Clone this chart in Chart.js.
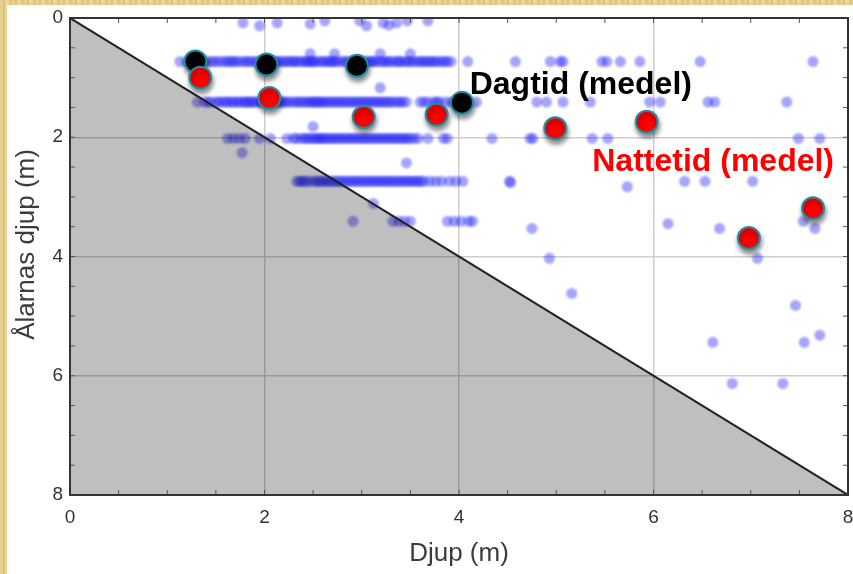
<!DOCTYPE html>
<html>
<head>
<meta charset="utf-8">
<script src="https://cdn.jsdelivr.net/npm/chart.js@4.4.1/dist/chart.umd.min.js"></script>
<style>
html, body { margin:0; padding:0; width:853px; height:574px; overflow:hidden;
  background: repeating-linear-gradient(90deg, #e7cf8f 0 3px, #dcc07b 3px 5px, #ecd698 5px 9px, #e0c583 9px 12px); }
#kort { position:absolute; left:7px; top:5px; width:854px; height:569px; background:#fff; }
</style>
</head>
<body>
<div id="kort"><canvas id="canva1"></canvas></div>
<script>
// djup (m) for the horizontal rows of individual eels
const radDjup = [0.73, 1.41, 2.02, 2.74, 3.41];
const rad1 = [1.13, 1.2, 1.24, 1.28, 1.32, 1.36, 1.4, 1.45, 1.48, 1.52, 1.56, 1.6, 1.63, 1.66, 1.69, 1.72, 1.76,
  1.8, 1.83, 1.86, 1.9, 1.93, 1.97, 2.0, 2.03, 2.05, 2.08, 2.1, 2.13, 2.16, 2.19, 2.22, 2.25, 2.28, 2.31,
  2.33, 2.37, 2.4, 2.43, 2.45, 2.48, 2.5, 2.52, 2.56, 2.59, 2.62, 2.65, 2.68, 2.7, 2.73, 2.76, 2.8, 2.83,
  2.86, 2.9, 2.92, 2.95, 2.98, 3.01, 3.04, 3.07, 3.1, 3.12, 3.15, 3.19, 3.22, 3.25, 3.28, 3.31, 3.35, 3.38,
  3.4, 3.44, 3.47, 3.5, 3.53, 3.57, 3.6, 3.63, 3.66, 3.69, 3.72, 3.75, 3.78, 3.82, 3.85, 3.88, 3.92,
  4.09, 4.58, 4.94, 5.04, 5.07, 5.47, 5.52, 5.66, 5.86, 6.48, 7.64];
const rad2 = [1.31, 1.38, 1.42, 1.45, 1.5, 1.53, 1.56, 1.6, 1.62, 1.66, 1.68, 1.72, 1.74, 1.78, 1.8, 1.83, 1.85,
  1.88, 1.9, 1.94, 1.96, 2.0, 2.02, 2.05, 2.08, 2.11, 2.14, 2.17, 2.2, 2.23, 2.26, 2.3, 2.33, 2.36, 2.39,
  2.42, 2.45, 2.48, 2.5, 2.53, 2.55, 2.58, 2.6, 2.63, 2.66, 2.69, 2.72, 2.75, 2.78, 2.81, 2.84, 2.87, 2.9,
  2.93, 2.96, 2.99, 3.02, 3.05, 3.08, 3.11, 3.14, 3.17, 3.2, 3.23, 3.26, 3.29, 3.32, 3.36, 3.39, 3.42, 3.46,
  3.6, 3.64, 3.68, 3.74, 3.77, 3.8, 3.86, 3.92, 3.95, 3.98, 4.06,
  4.18, 4.8, 4.9, 5.07, 5.35, 5.96, 6.07, 6.56, 6.63, 7.37];
const rad3 = [1.62, 1.68, 1.74, 1.8, 1.95, 2.06, 2.23, 2.3, 2.33, 2.38, 2.41, 2.44, 2.47, 2.5, 2.53, 2.55, 2.58,
  2.6, 2.63, 2.66, 2.69, 2.72, 2.75, 2.78, 2.81, 2.84, 2.87, 2.9, 2.93, 2.96, 2.99, 3.02, 3.05, 3.08, 3.11,
  3.14, 3.17, 3.2, 3.23, 3.26, 3.29, 3.32, 3.35, 3.38, 3.41, 3.44, 3.47, 3.5, 3.54, 3.58,
  3.68, 3.84, 3.88, 4.34, 4.73, 4.76, 5.37, 5.53, 7.49, 7.71];
const rad4 = [2.33, 2.36, 2.39, 2.42, 2.45, 2.5, 2.53, 2.56, 2.59, 2.62, 2.65, 2.68, 2.71, 2.74, 2.77, 2.8, 2.83,
  2.86, 2.89, 2.92, 2.95, 2.98, 3.01, 3.04, 3.07, 3.1, 3.13, 3.16, 3.19, 3.22, 3.25, 3.28, 3.31, 3.34, 3.37,
  3.4, 3.43, 3.46, 3.49, 3.52, 3.55, 3.58, 3.61, 3.64, 3.7, 3.76, 3.82, 3.9, 3.97, 4.04,
  4.52, 6.32, 6.53, 7.02];
const rad5 = [2.91, 3.32, 3.38, 3.44, 3.5, 3.88, 3.95, 4.02, 4.1, 4.14, 7.54];
// enstaka punkter [djup, ålarnas djup]
const spridda = [[1.78, 0.08], [1.95, 0.13], [2.13, 0.08], [2.47, 0.1], [2.62, 0.05], [2.98, 0.05], [3.05, 0.13],
  [3.22, 0.08], [3.28, 0.12], [3.36, 0.08], [3.47, 0.05], [3.68, 0.05],
  [2.47, 0.6], [2.72, 0.6], [3.19, 0.6], [3.5, 0.6], [3.19, 1.17], [2.5, 1.82], [3.46, 2.43], [3.12, 3.11],
  [1.77, 2.26], [4.53, 2.76], [5.73, 2.83], [4.75, 3.53], [6.15, 3.45], [6.68, 3.53], [7.66, 3.53],
  [4.93, 4.03], [7.07, 4.03], [5.16, 4.62], [7.46, 4.82], [7.71, 5.32], [6.61, 5.44], [7.55, 5.44],
  [6.81, 6.13], [7.33, 6.13]];
// medelvärden
const dagX = [1.29, 2.02, 2.95, 4.03];
const dagY = [0.73, 0.78, 0.80, 1.42];
const nattX = [1.34, 2.05, 3.02, 3.77, 4.99, 5.93, 6.98, 7.64];
const nattY = [1.00, 1.34, 1.66, 1.62, 1.85, 1.74, 3.69, 3.19];
// botten-linjen (ålen kan inte vara djupare än vattnet)
const bottenX = [0, 8];
const bottenY = [0, 8];
const tickSteg = 2;

let individer = [];
[rad1, rad2, rad3, rad4, rad5].forEach(function(rad, i){
    rad.forEach(function(x){ individer.push({x: x, y: radDjup[i]}); });
});
spridda.forEach(function(p){ individer.push({x: p[0], y: p[1]}); });
let dag = dagX.map(function(x, i){ return {x: x, y: dagY[i]}; });
let natt = nattX.map(function(x, i){ return {x: x, y: nattY[i]}; });
let botten = bottenX.map(function(x, i){ return {x: x, y: bottenY[i]}; });

const ramPlugin = {
    id: "ram",
    beforeDatasetDraw(chart, args){
        let ctx = chart.ctx;
        ctx.save();
        if (args.index === 0) {
            ctx.filter = "blur(0.9px)";
        } else if (args.index >= 2) {
            ctx.shadowColor = "rgba(0,0,0,0.45)";
            ctx.shadowBlur = 5;
            ctx.shadowOffsetX = 1;
            ctx.shadowOffsetY = 4;
        }
    },
    afterDatasetDraw(chart){
        chart.ctx.restore();
    },
    afterDraw(chart){
        let ctx = chart.ctx;
        let a = chart.chartArea;
        let sx = chart.scales.x, sy = chart.scales.y;
        ctx.save();
        // små tickar inåt
        ctx.strokeStyle = "#555";
        ctx.lineWidth = 1;
        ctx.beginPath();
        for (let v = 0.5; v < 8; v += 0.5) {
            let px = sx.getPixelForValue(v), py = sy.getPixelForValue(v);
            ctx.moveTo(px, a.bottom); ctx.lineTo(px, a.bottom - 5);
            ctx.moveTo(px, a.top); ctx.lineTo(px, a.top + 5);
            ctx.moveTo(a.left, py); ctx.lineTo(a.left + 5, py);
            ctx.moveTo(a.right, py); ctx.lineTo(a.right - 5, py);
        }
        ctx.stroke();
        ctx.strokeStyle = "#333";
        ctx.lineWidth = 2;
        ctx.strokeRect(a.left, a.top, a.right - a.left, a.bottom - a.top);
        // texter
        ctx.font = "bold 32px 'Liberation Sans', Arial, sans-serif";
        ctx.textBaseline = "alphabetic";
        ctx.textAlign = "left";
        ctx.fillStyle = "#000";
        ctx.fillText("Dagtid (medel)", sx.getPixelForValue(4.11), sy.getPixelForValue(1.27));
        ctx.fillStyle = "#ff0000";
        ctx.fillText("Nattetid (medel)", sx.getPixelForValue(5.37), sy.getPixelForValue(2.56));
        // y-axelns titel
        ctx.translate(20, (a.top + a.bottom) / 2 - 12);
        ctx.rotate(-Math.PI / 2);
        ctx.font = "26px 'Liberation Sans', Arial, sans-serif";
        ctx.fillStyle = "#3c3c3c";
        ctx.textAlign = "center";
        ctx.textBaseline = "middle";
        ctx.fillText("Ålarnas djup (m)", 0, 0);
        ctx.restore();
    }
};

window.onload = function(){
    let canva1 = document.getElementById("canva1");
    let grafico1 = new Chart(canva1, {
        type: "scatter",
        data: {
            datasets: [{
                label: "individer",
                data: individer,
                backgroundColor: "rgba(30,30,245,0.4)",
                borderWidth: 0,
                pointRadius: 5.5,
                order: 3
            }, {
                type: "line",
                label: "botten",
                data: botten,
                borderColor: "#222",
                borderWidth: 2,
                backgroundColor: "rgba(0,0,0,0.25)",
                fill: {value: 8},
                pointRadius: 0,
                tension: 0,
                order: 2
            }, {
                label: "Dagtid (medel)",
                data: dag,
                backgroundColor: "#000",
                borderColor: "#1d8ea4",
                borderWidth: 2,
                pointRadius: 11,
                order: 1
            }, {
                label: "Nattetid (medel)",
                data: natt,
                backgroundColor: "#ff0000",
                borderColor: "#1d8ea4",
                borderWidth: 2,
                pointRadius: 11,
                order: 0
            }]
        },
        options: {
            responsive: true,
            maintainAspectRatio: false,
            animation: false,
            layout: { padding: { top: 12, right: 0, left: 0, bottom: 0 } },
            plugins: { legend: { display: false }, tooltip: { enabled: false } },
            scales: {
                x: {
                    type: "linear",
                    min: 0, max: 8,
                    ticks: { stepSize: tickSteg, color: "#333", padding: 11,
                        font: { size: 19, family: "'Liberation Sans', Arial, sans-serif" } },
                    grid: { color: "#cdcdcd", lineWidth: 1.5, drawTicks: false },
                    border: { display: false },
                    title: { display: true, text: "Djup (m)", color: "#3c3c3c", padding: { top: 4, bottom: 5 },
                        font: { size: 26, family: "'Liberation Sans', Arial, sans-serif" } },
                    afterFit: function(s){ s.height = 79; s.paddingLeft = 0; s.paddingRight = 0; }
                },
                y: {
                    type: "linear",
                    reverse: true,
                    min: 0, max: 8,
                    ticks: { stepSize: tickSteg, color: "#333", padding: 7,
                        font: { size: 19, family: "'Liberation Sans', Arial, sans-serif" } },
                    grid: { color: "#cdcdcd", lineWidth: 1.5, drawTicks: false },
                    border: { display: false },
                    afterFit: function(s){ s.width = 63; s.paddingTop = 0; s.paddingBottom = 0; }
                }
            }
        },
        plugins: [ramPlugin]
    });
};
</script>
</body>
</html>
